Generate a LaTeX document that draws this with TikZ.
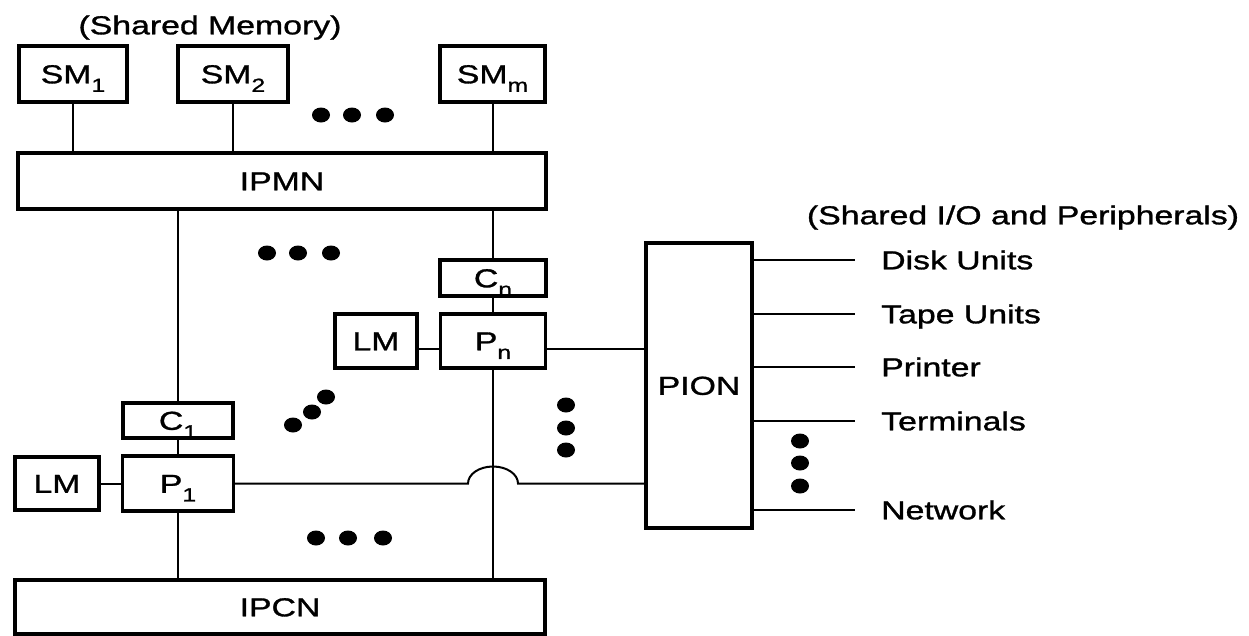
\documentclass[tikz,border=0pt]{standalone}
\usepackage{fontspec}
\setmainfont{Liberation Sans}[FakeStretch=1.3,FakeBold=1.2]
\newcommand\lsub[1]{\raisebox{-0.33em}{\fontsize{19}{19}\selectfont #1}}
\begin{document}
\begin{tikzpicture}[x=1pt,y=-1pt,
  every node/.style={font=\fontsize{26}{30}\selectfont},
  box/.style={draw, line width=3.2pt, inner sep=0pt, text height=18.6pt, text depth=0pt},
  wire/.style={line width=2pt},
  lbl/.style={inner sep=0pt, text height=18.6pt, text depth=0pt},
  dotfill/.style={fill=black}]
\useasboundingbox (0,0) rectangle (1249,635);
% shared memories
\node[lbl] (smlabel) at (210,25) {(Shared Memory)};
\node[box, minimum width=108pt, minimum height=56pt] (sm1) at (73,74) {SM\lsub{1}};
\node[box, minimum width=110pt, minimum height=56pt] (sm2) at (233,74) {SM\lsub{2}};
\node[box, minimum width=105pt, minimum height=56pt] (smm) at (492.5,74) {SM\lsub{m}};
\node[box, minimum width=528pt, minimum height=56pt] (ipmn) at (282,181) {IPMN};
% processors
\node[box, minimum width=106pt, minimum height=36pt] (cn) at (493,278) {C\lsub{n}};
\node[box, minimum width=105pt, minimum height=54pt] (pn) at (493,341) {P\lsub{n}};
\node[box, minimum width=82pt, minimum height=54pt] (lmn) at (376,341) {LM};
\node[box, minimum width=110pt, minimum height=35pt] (c1) at (178,420.5) {C\lsub{1}};
\node[box, minimum width=111pt, minimum height=55pt] (p1) at (178,483.5) {P\lsub{1}};
\node[box, minimum width=84pt, minimum height=53pt] (lm1) at (57,483.5) {LM};
\node[box, minimum width=106pt, minimum height=285pt] (pion) at (699,385.5) {PION};
\node[box, minimum width=530pt, minimum height=54pt] (ipcn) at (280,607) {IPCN};
% peripherals
\node[lbl] (iolabel) at (1023,215) {(Shared I/O and Peripherals)};
\node[lbl, anchor=west] (disk) at (881,260) {Disk Units};
\node[lbl, anchor=west] (tape) at (881,314) {Tape Units};
\node[lbl, anchor=west] (prn) at (881,367) {Printer};
\node[lbl, anchor=west] (term) at (881,421) {Terminals};
\node[lbl, anchor=west] (net) at (881,510) {Network};
% wires
\foreach \s in {sm1,sm2,smm} \draw[wire] (\s.south) -- (\s.south |- ipmn.north);
\draw[wire] (c1.north |- ipmn.south) -- (c1.north);
\draw[wire] (c1.south) -- (p1.north);
\draw[wire] (p1.south) -- (p1.south |- ipcn.north);
\draw[wire] (cn.north |- ipmn.south) -- (cn.north);
\draw[wire] (cn.south) -- (pn.north);
\draw[wire] (pn.south) -- (pn.south |- ipcn.north);
\draw[wire] (lm1.east) -- (p1.west);
\coordinate (hopl) at (468,483.5);
\draw[wire] (p1.east) -- (hopl) arc[start angle=180, end angle=0, x radius=25pt, y radius=17pt] -- (pion.west |- p1.east);
\coordinate (pnout) at ([yshift=-8pt]pn.east);
\draw[wire] (pnout) -- (pnout -| pion.west);
\draw[wire] (pnout -| lmn.east) -- (pnout -| pn.west);
\foreach \n in {disk,tape,prn,term,net} \draw[wire] (pion.east |- \n.west) -- ([xshift=-26pt]\n.west);
% ellipsis dots
\foreach \p in {(321,115),(352,115),(385,115),
                (267,253),(298,253),(331,253),
                (293,425),(312,412),(326,397),
                (566,405),(566,428),(566,450),
                (316,538),(348,538),(383,538),
                (800,441),(800,463),(800,486)}
  \fill[dotfill] \p ellipse[x radius=9pt, y radius=7.5pt];
\end{tikzpicture}
\end{document}
